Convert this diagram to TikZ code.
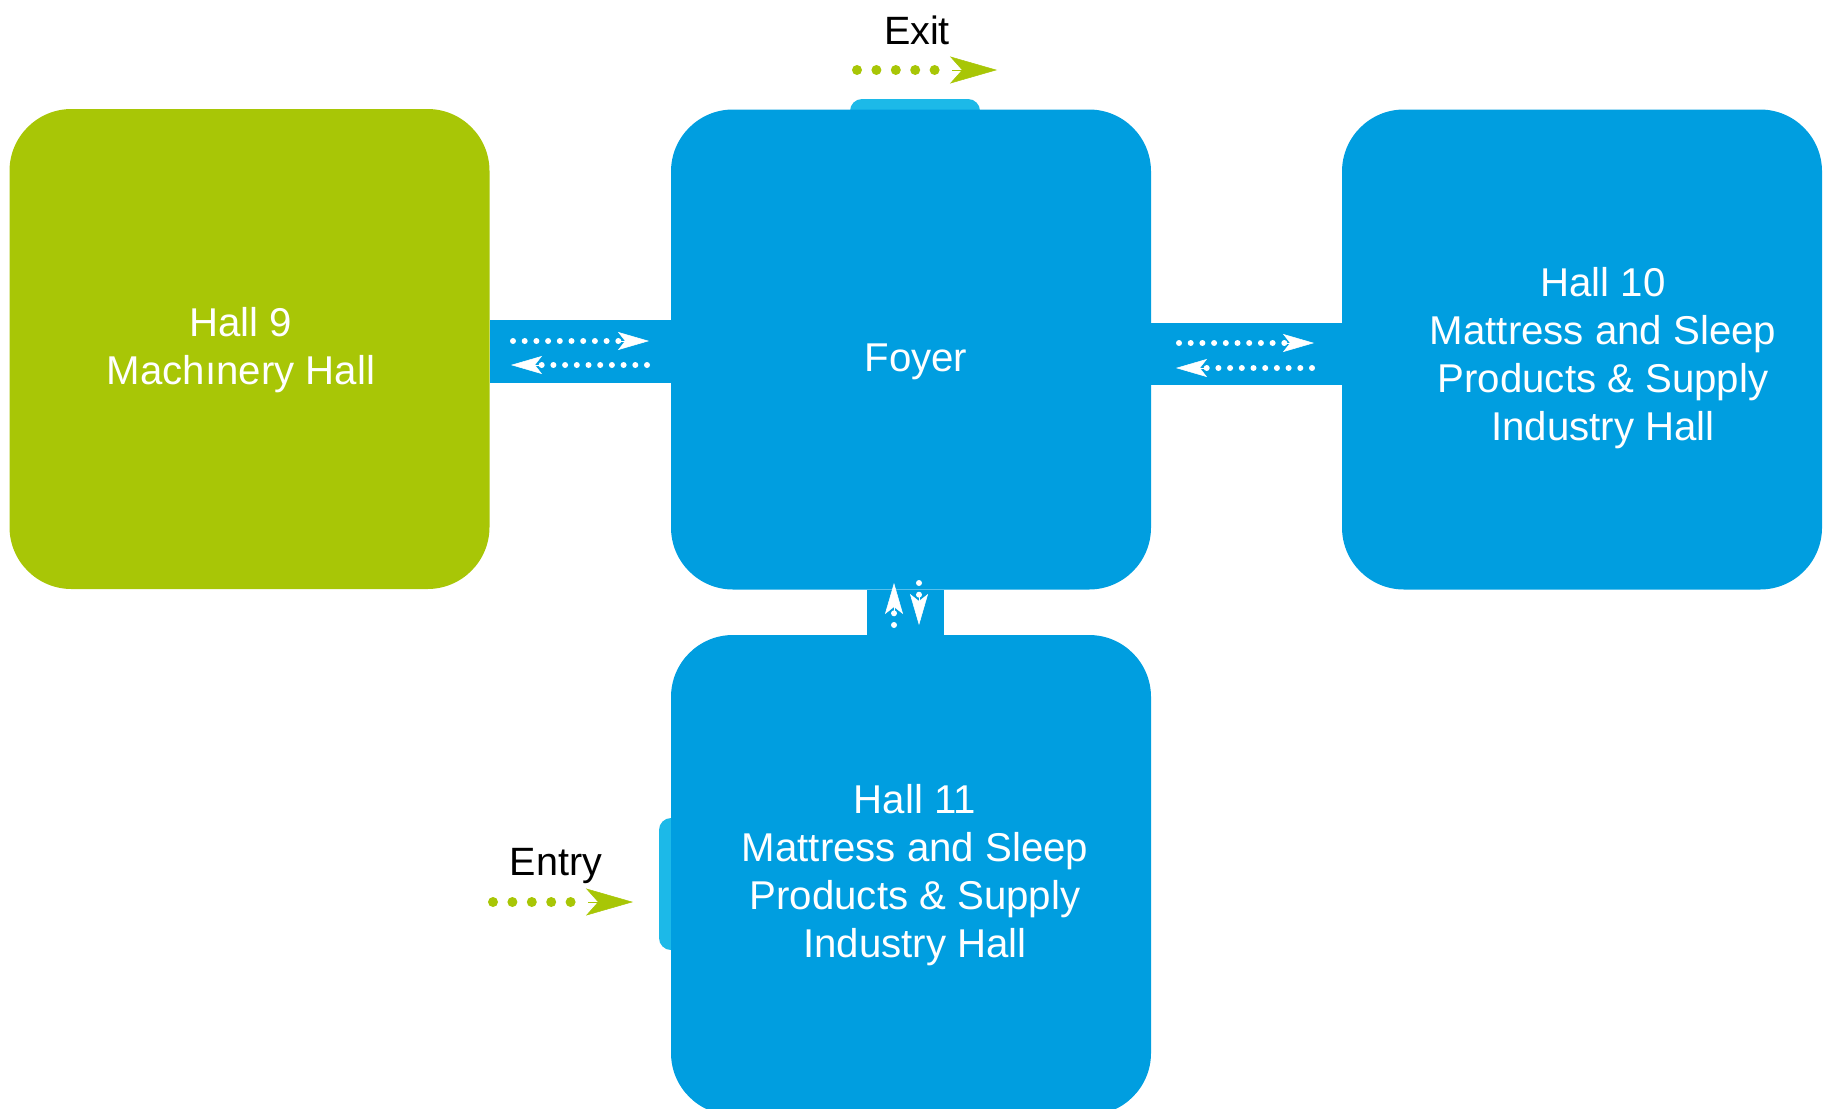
\documentclass[tikz,border=0pt]{standalone}
\usepackage{fontspec}
\setmainfont{Liberation Sans}
\usetikzlibrary{arrows.meta}
\definecolor{mblue}{HTML}{009EE0}
\definecolor{mgreen}{HTML}{A8C606}
\definecolor{mtab}{HTML}{1CB9E8}
\begin{document}
\begin{tikzpicture}[x=1pt,y=-1pt,
  hallbox/.style={fill=#1, rounded corners=62pt, minimum width=480pt, minimum height=480pt, inner sep=0pt, outer sep=0pt},
  halltext/.style={text=white, align=center, font=\fontsize{40.2}{48}\selectfont, inner sep=0pt},
  labeltext/.style={text=black, font=\fontsize{39.5}{46}\selectfont, inner sep=0pt},
  wdots/.style={white, line width=6pt, line cap=round, dash pattern=on 0pt off 11.7pt},
  wtip/.style={white, line width=0.5pt, -{Stealth[length=31pt,width=18pt,inset=7pt]}},
  gdots/.style={mgreen, line width=10pt, line cap=round, dash pattern=on 0pt off 19.4pt},
  gtip/.style={mgreen, line width=0.5pt, -{Stealth[length=47pt,width=27pt,inset=12pt]}},
  bar/.style={fill=mblue}]
\useasboundingbox (0,0) rectangle (1827,1108);
\clip (0,0) rectangle (1827,1108);

% tabs (behind boxes)
\fill[mtab, rounded corners=12pt] (850,125) -- (850,99) -- (980,99) -- (980,125) -- cycle;
\fill[mtab, rounded corners=12pt] (690,818) -- (659,818) -- (659,950) -- (690,950) -- cycle;

% boxes
\node[hallbox=mgreen] (h9) at (249.5,349) {};
\node[hallbox=mblue] (foyer) at (911,349.5) {};
\node[hallbox=mblue] (h10) at (1582,349.5) {};
\node[hallbox=mblue] (h11) at (911,875) {};

% bars
\fill[bar] (h9.east |- 0,320) rectangle (foyer.west |- 0,383);
\fill[bar] (foyer.east |- 0,323) rectangle (h10.west |- 0,385);
\fill[bar] (867,0 |- foyer.south) rectangle (944,0 |- h11.north);

% texts
\node[halltext] (h9t) at (241,350) {Hall 9\\Machınery Hall};
\node[halltext] (foyert) at (916,362) {Foyer};
\node[halltext] (h10t) at (1603,358) {Hall 10\\Mattress and Sleep\\Products \& Supply\\Industry Hall};
\node[halltext] (h11t) at (915,875) {Hall 11\\Mattress and Sleep\\Products \& Supply\\Industry Hall};
\node[labeltext] (exit) at (917,30) {Exit};
\node[labeltext] (entry) at (556,866) {Entry};

% arrows between hall 9 and foyer
\coordinate (a1s) at (513,341); \coordinate (a1e) at (620,341); \coordinate (a1t) at (649,341);
\draw[wdots] (a1s) -- (a1e);
\draw[wtip] (a1e) -- (a1t);
\coordinate (a2s) at (647,365); \coordinate (a2e) at (540,365); \coordinate (a2t) at (511,365);
\draw[wdots] (a2s) -- (a2e);
\draw[wtip] (a2e) -- (a2t);

% arrows between foyer and hall 10
\coordinate (b1s) at (1179,343); \coordinate (b1e) at (1285,343); \coordinate (b1t) at (1314,343);
\draw[wdots] (b1s) -- (b1e);
\draw[wtip] (b1e) -- (b1t);
\coordinate (b2s) at (1312,368); \coordinate (b2e) at (1205,368); \coordinate (b2t) at (1176,368);
\draw[wdots] (b2s) -- (b2e);
\draw[wtip] (b2e) -- (b2t);

% arrows between foyer and hall 11
\coordinate (c1s) at (894,625); \coordinate (c1e) at (894,611); \coordinate (c1t) at (894,583);
\draw[wdots] (c1s) -- (c1e);
\draw[wtip] (c1e) -- (c1t);
\coordinate (c2s) at (919,583); \coordinate (c2e) at (919,597); \coordinate (c2t) at (919,625);
\draw[wdots] (c2s) -- (c2e);
\draw[wtip] (c2e) -- (c2t);

% exit / entry arrows
\coordinate (xs) at (857,70); \coordinate (xe) at (952,70); \coordinate (xt) at (997,70);
\draw[gdots] (xs) -- (xe);
\draw[gtip] (xe) -- (xt);
\coordinate (ns) at (493,902); \coordinate (ne) at (588,902); \coordinate (nt) at (633,902);
\draw[gdots] (ns) -- (ne);
\draw[gtip] (ne) -- (nt);
\end{tikzpicture}
\end{document}
